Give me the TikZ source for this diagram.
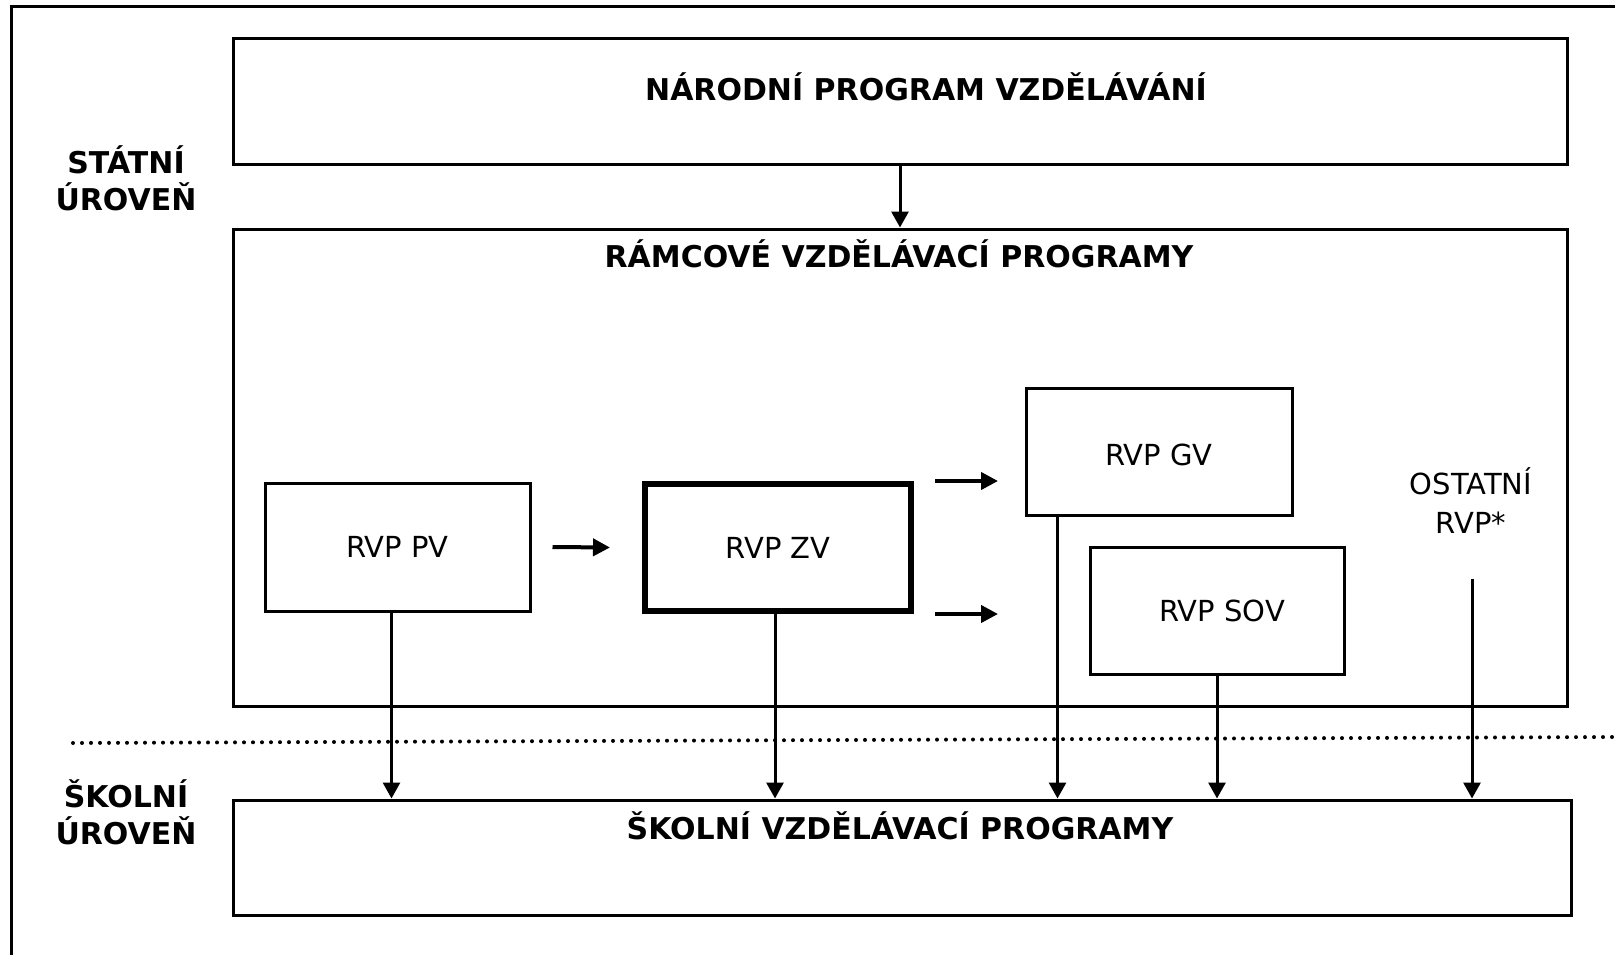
\documentclass[tikz,border=0pt]{standalone}
\usepackage{fontspec}
\setmainfont{DejaVu Sans}
\usetikzlibrary{arrows.meta}
\begin{document}
\begin{tikzpicture}[x=1pt,y=-1pt,
  box/.style={draw=black,line width=3pt,inner sep=0pt,fill=none},
  bold/.style={font=\fontsize{30}{37}\selectfont\bfseries,align=center,inner sep=0pt},
  reg/.style={font=\fontsize{29}{39}\selectfont,align=center,inner sep=0pt},
  arr/.style={line width=3pt,-{Triangle[length=16pt,width=17pt]}},
  harr/.style={line width=4pt,-{Triangle[length=17pt,width=17pt]}}]
\useasboundingbox (0,0) rectangle (1615,955);
% outer frame
\draw[line width=3pt] (11,955) -- (11,7) -- (1615,7);
% boxes
\node[box,minimum width=1334pt,minimum height=126pt] (npv) at (900,102) {};
\node[box,minimum width=1334pt,minimum height=477pt] (rvp) at (900,467.5) {};
\node[box,minimum width=265pt,minimum height=128pt,reg] (pv) at (397.5,547) {RVP PV};
\node[box,line width=6pt,minimum width=266pt,minimum height=127pt,reg] (zv) at (778,547.5) {RVP ZV};
\node[box,minimum width=266pt,minimum height=127pt] (gv) at (1159,451.5) {};
\node[reg] (gvt) at (1159,455) {RVP GV};
\node[box,minimum width=254pt,minimum height=127pt] (sov) at (1217,610.5) {};
\node[reg] (sovt) at (1222,611) {RVP SOV};
\node[box,minimum width=1338pt,minimum height=115pt] (svp) at (902,857.5) {};
% titles
\node[bold] (npvt) at (926,86.5) {NÁRODNÍ PROGRAM VZDĚLÁVÁNÍ};
\node[bold] (rvpt) at (899,253.5) {RÁMCOVÉ VZDĚLÁVACÍ PROGRAMY};
\node[bold] (svpt) at (900,826) {ŠKOLNÍ VZDĚLÁVACÍ PROGRAMY};
\node[bold] (stat) at (126,178) {STÁTNÍ\\ÚROVEŇ};
\node[bold] (skol) at (126,812) {ŠKOLNÍ\\ÚROVEŇ};
\node[reg] (ost) at (1471,501) {OSTATNÍ\\RVP*};
\coordinate (oststart) at (1472,579);
% dotted separator
\draw[line width=4pt,line cap=round,dash pattern=on 0pt off 9pt] (73,743) -- (1615,737);
% arrows
\draw[arr] (npv.south) -- (rvp.north);
\draw[harr] ([xshift=21pt]pv.east) -- ([xshift=-32pt]zv.west);
\draw[harr] ([xshift=21pt]zv.north east) -- ++(63,0);
\draw[harr] ([xshift=21pt]zv.south east) -- ++(63,0);
\draw[arr] ([xshift=-6pt]pv.south) -- ([xshift=-6pt]pv.south |- svp.north);
\draw[arr] ([xshift=-3pt]zv.south) -- ([xshift=-3pt]zv.south |- svp.north);
\draw[arr] ([xshift=33pt]gv.south west) -- ([xshift=33pt]gv.south west |- svp.north);
\draw[arr] (sov.south) -- (sov.south |- svp.north);
\draw[arr] (oststart) -- (oststart |- svp.north);
\end{tikzpicture}
\end{document}
